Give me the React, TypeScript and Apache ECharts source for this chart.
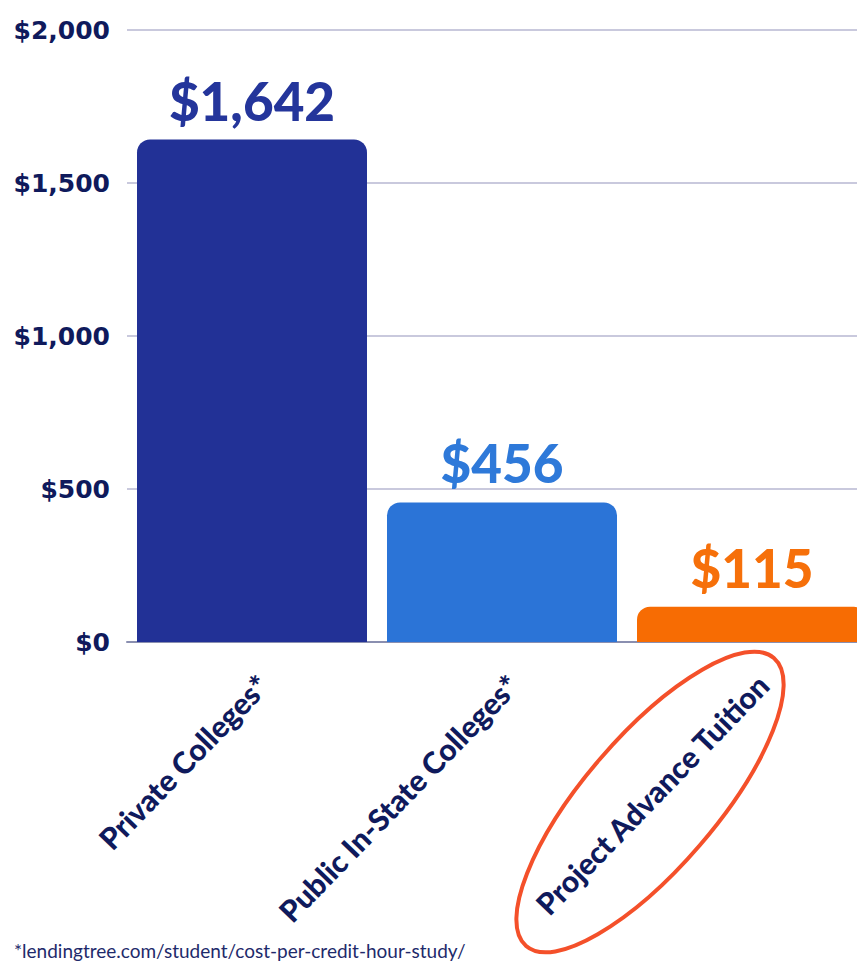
import React, { useEffect, useRef } from "react";
import * as echarts from "echarts";

const categories = ["Private Colleges*", "Public In-State Colleges*", "Project Advance Tuition"];
const costPerCreditHour = [1642, 456, 115];
const yTicks = [0, 500, 1000, 1500, 2000];
const footnote = "*lendingtree.com/student/cost-per-credit-hour-study/";

const barColors = ["#223196", "#2B74D7", "#F76C03"];
const labelColors = ["#24359B", "#2E79D9", "#F6700A"];
const navy = "#0F1A5C";

const fmt = (v: number) => "$" + v.toLocaleString("en-US");

export default function App() {
  const ref = useRef<HTMLDivElement>(null);
  useEffect(() => {
    document.body.style.margin = "0";
    const chart = echarts.init(ref.current!, null, { renderer: "svg" });
    chart.setOption({
      animation: false,
      backgroundColor: "#ffffff",
      grid: {
        left: 127,
        width: 750,
        top: 30,
        bottom: 323,
        containLabel: false,
        outerBoundsMode: "none",
      },
      xAxis: {
        type: "category",
        data: categories,
        axisTick: { show: false },
        axisLine: { show: true, lineStyle: { color: "#8A8FB0", width: 2 } },
        axisLabel: {
          interval: 0,
          rotate: 46,
          margin: 27,
          align: "right",
          verticalAlign: "top",
          color: navy,
          fontFamily: "Lato",
          fontWeight: 900,
          fontSize: 30,
        },
      },
      yAxis: {
        type: "value",
        min: yTicks[0],
        max: yTicks[yTicks.length - 1],
        interval: 500,
        axisLine: { show: false },
        axisTick: { show: false },
        splitLine: { show: true, lineStyle: { color: "#C9C9DD", width: 2 } },
        axisLabel: {
          margin: 17,
          color: navy,
          fontFamily: "DejaVu Sans",
          fontWeight: "bold",
          fontSize: 25,
          formatter: (v: number) => fmt(v),
        },
      },
      series: [
        {
          type: "bar",
          barCategoryGap: "8%",
          data: costPerCreditHour.map((v, i) => ({
            value: v,
            itemStyle: { color: barColors[i], borderRadius: [13, 13, 0, 0] },
            label: { color: labelColors[i] },
          })),
          label: {
            show: true,
            position: "top",
            distance: 13,
            fontFamily: "Lato",
            fontWeight: 900,
            fontSize: 53,
            formatter: (p: any) => fmt(p.value),
          },
        },
      ],
      graphic: [
        {
          type: "ellipse",
          x: 650,
          y: 802,
          rotation: 0.86,
          shape: { cx: 0, cy: 0, rx: 190, ry: 66 },
          style: { fill: "none", stroke: "#F4502A", lineWidth: 4 },
          z: 100,
        },
        {
          type: "text",
          left: 14,
          top: 941,
          style: {
            text: footnote,
            fill: "#1E2A6B",
            fontFamily: "Lato",
            fontSize: 19,
          },
        },
      ],
    });
    return () => chart.dispose();
  }, []);
  return <div ref={ref} style={{ width: 857, height: 965 }} />;
}
